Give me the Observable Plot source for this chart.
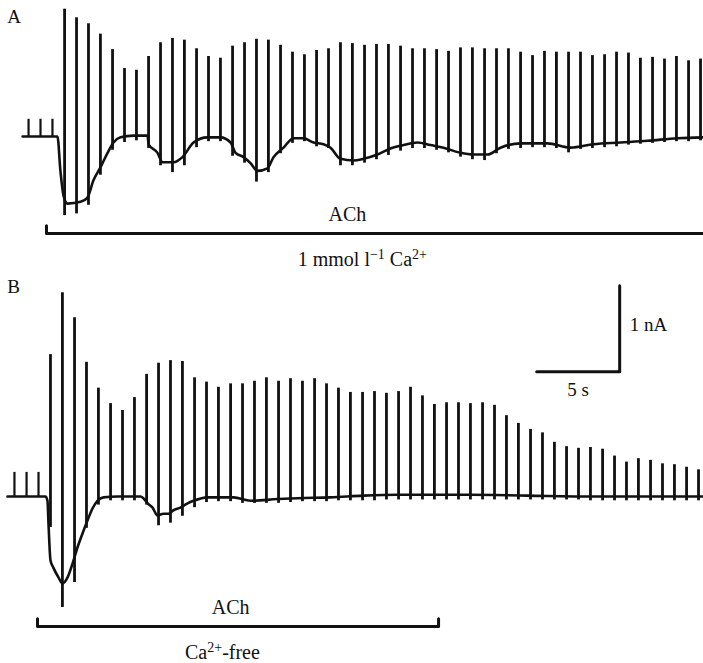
<!DOCTYPE html>
<html><head><meta charset="utf-8">
<script src="https://cdn.jsdelivr.net/npm/d3@7"></script>
<script src="https://cdn.jsdelivr.net/npm/@observablehq/plot@0.6"></script>
<style>
body{margin:0;background:#fff}
#fig{width:703px}
#fig svg{display:block;background:#fff}
</style>
</head><body><div id="fig"></div>
<script>
// ---------- Panel A : 1 mmol l-1 Ca2+ (time in s, current in nA relative to rest) ----------
const A_time = [3.86,4.58,5.30,6.02,6.75,7.47,8.19,8.92,9.64,10.36,11.08,11.81,12.53,13.25,13.98,14.70,15.42,16.14,16.87,17.59,18.31,19.04,19.76,20.48,21.20,21.93,22.65,23.37,24.10,24.82,25.54,26.27,26.99,27.71,28.43,29.16,29.88,30.60,31.33,32.05,32.77,33.49,34.22,34.94,35.66,36.39,37.11,37.83,38.55,39.28,40.00,40.72,41.45,42.17];
const A_peak = [1.48,1.38,1.31,1.19,1.01,0.79,0.77,0.93,1.09,1.14,1.12,1.02,0.93,0.91,1.05,1.09,1.13,1.12,1.06,0.98,0.95,1.00,1.02,1.09,1.08,1.06,1.07,1.07,1.05,1.02,1.02,1.01,0.99,1.03,1.03,1.02,1.02,1.02,0.98,0.94,0.99,0.98,0.98,0.98,0.94,0.95,0.98,0.97,0.91,0.92,0.90,0.93,0.88,0.90];
const A_low = [-0.92,-0.90,-0.80,-0.45,-0.16,-0.07,-0.05,-0.14,-0.34,-0.42,-0.34,-0.13,-0.06,-0.06,-0.23,-0.31,-0.53,-0.42,-0.20,-0.08,-0.06,-0.12,-0.14,-0.34,-0.34,-0.31,-0.27,-0.22,-0.17,-0.14,-0.14,-0.16,-0.19,-0.24,-0.27,-0.28,-0.20,-0.15,-0.14,-0.13,-0.13,-0.14,-0.19,-0.15,-0.14,-0.13,-0.12,-0.10,-0.09,-0.08,-0.07,-0.06,-0.06,-0.05];
const A_baseT = [1.33,3.31,3.43,3.61,3.80,4.04,4.82,5.24,5.60,6.02,6.45,6.81,7.23,8.01,8.86,8.92,9.46,9.76,10.42,10.96,11.63,12.47,13.25,13.86,14.16,14.64,15.06,15.48,16.08,16.45,17.05,17.65,18.25,18.86,19.46,19.88,20.48,21.27,21.87,22.71,23.49,24.28,25.12,25.90,26.69,27.71,28.49,29.34,30.12,31.33,32.95,34.34,35.72,37.35,38.98,40.78,42.35];
const A_baseI = [0,0,0,-0.40,-0.69,-0.78,-0.76,-0.71,-0.51,-0.36,-0.19,-0.07,-0.01,0.01,0.01,-0.09,-0.19,-0.30,-0.30,-0.24,-0.07,-0.01,-0.01,-0.07,-0.19,-0.24,-0.31,-0.40,-0.37,-0.24,-0.13,-0.02,-0.02,-0.07,-0.09,-0.13,-0.26,-0.28,-0.26,-0.21,-0.14,-0.10,-0.07,-0.10,-0.13,-0.19,-0.21,-0.21,-0.13,-0.08,-0.08,-0.13,-0.09,-0.07,-0.05,-0.02,-0.01];
const A_preT = [1.69,2.41,3.13];
const A_preI = [0.20,0.20,0.20];

// ---------- Panel B : Ca2+-free ----------
const B_time = [3.01,3.73,4.46,5.18,5.90,6.63,7.35,8.07,8.80,9.52,10.24,10.96,11.69,12.41,13.13,13.86,14.58,15.30,16.02,16.75,17.47,18.19,18.92,19.64,20.36,21.08,21.81,22.53,23.25,23.98,24.70,25.42,26.14,26.87,27.59,28.31,29.04,29.76,30.48,31.20,31.93,32.65,33.37,34.10,34.82,35.54,36.27,36.99,37.71,38.43,39.16,39.88,40.60,41.33,42.05];
const B_peak = [1.65,2.37,2.08,1.56,1.26,1.08,1.00,1.15,1.42,1.55,1.58,1.57,1.38,1.33,1.27,1.31,1.31,1.34,1.38,1.34,1.37,1.34,1.37,1.31,1.26,1.21,1.21,1.22,1.20,1.22,1.27,1.17,1.07,1.09,1.09,1.08,1.09,1.06,0.94,0.85,0.78,0.74,0.63,0.58,0.56,0.57,0.55,0.47,0.40,0.44,0.42,0.38,0.37,0.34,0.31];
const B_low = [-0.36,-1.29,-1.00,-0.37,-0.10,-0.05,-0.05,-0.05,-0.10,-0.34,-0.31,-0.23,-0.13,-0.07,-0.06,-0.06,-0.08,-0.08,-0.08,-0.08,-0.07,-0.06,-0.06,-0.06,-0.05,-0.05,-0.05,-0.05,-0.04,-0.04,-0.04,-0.04,-0.04,-0.04,-0.04,-0.04,-0.04,-0.04,-0.04,-0.04,-0.04,-0.04,-0.04,-0.04,-0.04,-0.05,-0.05,-0.05,-0.05,-0.05,-0.05,-0.05,-0.05,-0.05,-0.05];
const B_baseT = [0.42,2.71,2.83,2.89,3.01,3.19,3.49,3.73,4.04,4.34,4.64,4.94,5.24,5.54,5.84,6.20,7.05,8.43,8.61,8.86,9.16,9.46,9.82,10.12,10.42,10.84,11.27,11.63,12.47,14.04,15.06,16.69,17.89,19.88,21.87,23.92,28.31,31.75,35.72,42.35];
const B_baseI = [0,0,-0.05,-0.31,-0.74,-0.83,-0.94,-1.01,-0.94,-0.78,-0.59,-0.43,-0.28,-0.14,-0.05,-0.01,0,0,-0.02,-0.08,-0.13,-0.22,-0.20,-0.20,-0.16,-0.13,-0.08,-0.05,-0.01,-0.01,-0.05,-0.03,-0.02,-0.01,0.01,0.02,0.02,0.01,0,0];
const B_preT = [0.84,1.57,2.29];
const B_preI = [0.28,0.28,0.28];

// ---------- labels ----------
const panelLabels = ["A","B"];
const drugLabel = "ACh";
const A_condition = "1 mmol l-1 Ca2+";
const B_condition = "Ca2+-free";
const A_bathT = [2.77, 42.35];   // ACh application (s)
const B_bathT = [2.23, 26.39];
const scaleI = 1;  // nA
const scaleS = 5;  // s

const INK = "#111";
const FONT = "Liberation Serif, Times New Roman, serif";
const zip = (t, a) => t.map((v, i) => ({t: v, i: a[i]}));

function panel({label, time, peak, low, baseT, baseI, preT, preI, bath, cond, height, ydom, bathY, drugT, condT, scale}) {
  const spikes = time.map((t, k) => ({t, lo: low[k], hi: peak[k]}));
  const pre = preT.map((t, k) => ({t, lo: 0, hi: preI[k]}));
  const bracket = [
    {t: bath[0], i: bathY + 0.09},
    {t: bath[0], i: bathY},
    {t: bath[1], i: bathY}
  ];
  if (bath[1] < 42) bracket.push({t: bath[1], i: bathY + 0.09});
  const marks = [
    Plot.line(zip(baseT, baseI), {x: "t", y: "i", stroke: INK, strokeWidth: 2.6, curve: "monotone-x"}),
    Plot.ruleX(spikes, {x: "t", y1: "lo", y2: "hi", stroke: INK, strokeWidth: 2.8}),
    Plot.ruleX(pre, {x: "t", y1: "lo", y2: "hi", stroke: INK, strokeWidth: 2.2}),
    Plot.line(bracket, {x: "t", y: "i", stroke: INK, strokeWidth: 3}),
    Plot.text([drugLabel], {x: drugT, y: bathY + 0.14, text: d => d, fontFamily: FONT, fontSize: 20, fill: INK, lineAnchor: "bottom"}),
    Plot.text([cond], {x: condT, y: bathY - 0.21, text: d => d, fontFamily: FONT, fontSize: 20, fill: INK, lineAnchor: "top", className: "cond"}),
    Plot.text([label], {x: 0.4, y: ydom[1] - 0.1, text: d => d, fontFamily: FONT, fontSize: 19, fill: INK, lineAnchor: "top", textAnchor: "start"})
  ];
  if (scale) {
    const bx = 37.3, by = 1.45;
    marks.push(
      Plot.line([{t: bx - scaleS, i: by}, {t: bx, i: by}, {t: bx, i: by + scaleI}], {x: "t", y: "i", stroke: INK, strokeWidth: 3}),
      Plot.text([scaleI + " nA"], {x: bx + 0.6, y: by + 0.55, text: d => d, fontFamily: FONT, fontSize: 19, fill: INK, textAnchor: "start"}),
      Plot.text([scaleS + " s"], {x: bx - scaleS / 2, y: by - 0.12, text: d => d, fontFamily: FONT, fontSize: 19, fill: INK, lineAnchor: "top"})
    );
  }
  return Plot.plot({
    width: 703, height,
    marginTop: 0, marginBottom: 0, marginLeft: 0, marginRight: 0,
    x: {domain: [0, 42.35], axis: null},
    y: {domain: ydom, axis: null},
    style: {background: "#fff", overflow: "visible"},
    marks
  });
}

const fig = document.getElementById("fig");
fig.append(panel({label: panelLabels[0], time: A_time, peak: A_peak, low: A_low, baseT: A_baseT, baseI: A_baseI,
  preT: A_preT, preI: A_preI, bath: A_bathT, cond: A_condition, height: 270, ydom: [-1.558, 1.581], bathY: -1.128,
  drugT: 20.9, condT: 21.8, scale: false}));
fig.append(panel({label: panelLabels[1], time: B_time, peak: B_peak, low: B_low, baseT: B_baseT, baseI: B_baseI,
  preT: B_preT, preI: B_preI, bath: B_bathT, cond: B_condition, height: 393, ydom: [-1.942, 2.628], bathY: -1.512,
  drugT: 13.86, condT: 13.37, scale: true}));

// superscripts for ion labels
d3.selectAll("#fig .cond text").each(function() {
  const s = this.textContent;
  const sup = t => `<tspan dy="-7" style="font-size:14px">${t}</tspan>`;
  const down = t => `<tspan dy="7">${t}</tspan>`;
  if (s.startsWith("1 mmol")) {
    this.innerHTML = `1 mmol l${sup("\u22121")}${down(" Ca")}${sup("2+")}`;
  } else {
    this.innerHTML = `Ca${sup("2+")}${down("-free")}`;
  }
});
</script>
</body></html>
